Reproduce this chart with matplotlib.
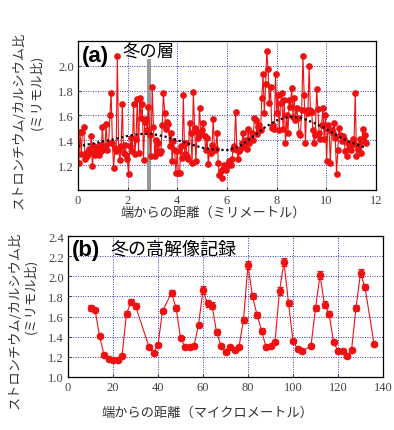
import numpy as np
import matplotlib.pyplot as plt

jp = ['Noto Sans CJK JP', 'DejaVu Sans']
plt.rcParams['font.family'] = jp

# (a) Sr/Ca ratio along the transect, one list per millimetre
sr_a = [
    1.22, 1.47, 1.29, 1.47, 1.51, 1.25, 1.30, 1.27, 1.33, 1.30, 1.43, 1.19, 1.35, 1.28, 1.30, 1.34, 1.28, 1.36, 1.31, 1.51,
    1.33, 1.35, 1.53, 1.32, 1.38, 1.60, 1.78, 1.38, 1.18, 1.34, 1.31, 2.08, 1.33, 1.24, 1.35, 1.69, 1.30, 1.36, 1.28, 1.25,
    1.13, 1.35, 1.42, 1.31, 1.69, 1.29, 1.41, 1.73, 1.30, 1.74, 1.58, 1.69, 1.24, 1.55, 1.57, 1.48, 1.67, 1.44, 1.27, 1.83,
    1.51, 1.27, 1.40, 1.31, 1.38, 1.30, 1.31, 1.52, 1.78, 1.62, 1.49, 1.55, 1.53, 1.35, 1.46, 1.23, 1.39, 1.32, 1.14, 1.31,
    1.14, 1.14, 1.35, 1.26, 1.76, 1.29, 1.38, 1.27, 1.25, 1.54, 1.46, 1.22, 1.79, 1.50, 1.23, 1.47, 1.42, 1.66, 1.45, 1.48,
    1.54, 1.43, 1.32, 1.42, 1.21, 1.31, 1.30, 1.36, 1.57, 1.32, 1.33, 1.46, 1.22, 1.12, 1.15, 1.10, 1.17, 1.20, 1.16, 1.19,
    1.21, 1.23, 1.20, 1.25, 1.33, 1.35, 1.63, 1.32, 1.25, 1.31, 1.34, 1.38, 1.46, 1.35, 1.40, 1.33, 1.49, 1.38, 1.41, 1.46,
    1.40, 1.58, 1.56, 1.45, 1.51, 1.52, 1.48, 1.74, 1.93, 1.62, 1.85, 2.12, 1.97, 1.70, 1.83, 1.50, 1.52, 1.49, 1.93, 1.62,
    1.76, 1.48, 1.70, 1.78, 1.49, 1.72, 1.38, 1.60, 1.46, 1.72, 1.67, 1.82, 1.59, 1.74, 1.56, 1.66, 1.58, 1.46, 1.44, 1.64,
    2.08, 1.76, 1.38, 1.64, 1.62, 2.00, 1.64, 1.63, 1.48, 1.38, 1.44, 1.81, 1.65, 1.46, 1.41, 1.52, 1.66, 1.41, 1.60, 1.23,
    1.52, 1.48, 1.22, 1.48, 1.46, 1.54, 1.42, 1.13, 1.32, 1.50, 1.44, 1.39, 1.43, 1.41, 1.31, 1.27, 1.38, 1.33, 1.35, 1.32,
    1.41, 1.37, 1.78, 1.27, 1.33, 1.36, 1.41, 1.30, 1.49, 1.39, 1.44, 1.38,
]
# measurement spots are evenly spaced along the transect
dist_a = np.linspace(0.03, 11.62, len(sr_a))

# smoothed trend (dotted black line)
trend_x = [0, 0.5, 1, 1.5, 2, 2.5, 3, 3.5, 4, 4.5, 5, 5.5, 6, 6.5, 7, 7.5, 8, 8.5, 9, 9.5, 10, 10.5, 11, 11.6]
trend_y = [1.35, 1.37, 1.39, 1.41, 1.435, 1.45, 1.45, 1.43, 1.40, 1.37, 1.34, 1.325, 1.32, 1.35, 1.42, 1.50,
           1.56, 1.59, 1.58, 1.54, 1.49, 1.43, 1.38, 1.34]

# (b) high resolution record
dist_b = [10, 12, 14, 16, 18, 20, 22, 24, 26, 28, 30, 36, 38, 40, 42, 46, 48, 50, 52, 54, 56, 58, 60, 62, 64,
          66, 68, 70, 72, 74, 76, 78, 80, 82, 84, 86, 88, 90, 92, 94, 96, 98, 100, 102, 104, 108, 110, 112,
          114, 116, 118, 120, 122, 124, 126, 128, 130, 132, 136]
sr_b = [1.69, 1.67, 1.41, 1.22, 1.175, 1.165, 1.165, 1.21, 1.63, 1.745, 1.705, 1.30, 1.24, 1.32, 1.655, 1.835,
        1.69, 1.39, 1.30, 1.30, 1.31, 1.52, 1.86, 1.73, 1.71, 1.45, 1.31, 1.25, 1.30, 1.27, 1.30, 1.57, 2.11,
        1.80, 1.62, 1.46, 1.30, 1.31, 1.35, 1.855, 2.14, 1.735, 1.355, 1.28, 1.255, 1.31, 1.685, 2.01, 1.72,
        1.63, 1.35, 1.255, 1.255, 1.205, 1.265, 1.69, 2.03, 1.89, 1.33]
err_b = [0.03, 0.02, 0.02, 0.02, 0.02, 0.02, 0.02, 0.02, 0.03, 0.03, 0.03, 0.02, 0.02, 0.02, 0.02, 0.03,
         0.03, 0.02, 0.02, 0.02, 0.02, 0.02, 0.04, 0.03, 0.03, 0.03, 0.02, 0.02, 0.02, 0.02, 0.02, 0.03, 0.04,
         0.03, 0.03, 0.03, 0.02, 0.02, 0.02, 0.04, 0.04, 0.03, 0.02, 0.02, 0.02, 0.02, 0.03, 0.04, 0.03,
         0.03, 0.02, 0.02, 0.02, 0.02, 0.02, 0.03, 0.04, 0.03, 0.02]

red = '#ee1111'
grid_col = '#3a3aa8'


def style(ax, xticks, yticks):
    ax.set_xticks(xticks)
    ax.set_yticks(yticks)
    ax.tick_params(direction='in', length=2, colors='#444444', labelsize=9, pad=3)
    for lab in ax.get_xticklabels() + ax.get_yticklabels():
        lab.set_fontfamily('Liberation Serif')
    ax.grid(True, color=grid_col, linestyle=(0, (1, 1.5)), linewidth=0.7)
    ax.set_axisbelow(True)
    for sp in ax.spines.values():
        sp.set_linewidth(0.9)


fig = plt.figure(figsize=(3.94, 4.31), dpi=100)

ax1 = fig.add_axes([0.198, 0.557, 0.756, 0.346])
ax1.axvspan(2.76, 2.94, ymin=0, ymax=0.875, color='#999999', zorder=1.5, lw=0)
ax1.plot(dist_a, sr_a, '-o', color=red, lw=0.8, ms=3.8, zorder=2)
ax1.plot(trend_x, trend_y, color='black', lw=1.6, linestyle=(0, (1, 1.2)), zorder=3)
ax1.set_xlim(0, 12)
ax1.set_ylim(1.0, 2.2)
style(ax1, [0, 2, 4, 6, 8, 10, 12], [1.2, 1.4, 1.6, 1.8, 2.0])
ax1.set_yticklabels(['1.2', '1.4', '1.6', '1.8', '2.0'])
ax1.text(0.012, 0.975, '(a)', transform=ax1.transAxes, va='top', ha='left',
         fontsize=16, fontweight='bold', family=['Liberation Sans', 'DejaVu Sans'])
ax1.text(0.148, 0.985, '冬の層', transform=ax1.transAxes, va='top', ha='left', fontsize=12.5)

ax2 = fig.add_axes([0.1726, 0.123, 0.7995, 0.327])
ax2.errorbar(dist_b, sr_b, yerr=err_b, fmt='-o', color=red, lw=0.8, ms=4.5,
             elinewidth=0.8, capsize=2, capthick=0.8, zorder=2)
ax2.set_xlim(0, 140)
ax2.set_ylim(1.0, 2.4)
style(ax2, [0, 20, 40, 60, 80, 100, 120, 140], [1.0, 1.2, 1.4, 1.6, 1.8, 2.0, 2.2, 2.4])
ax2.set_yticklabels(['1.0', '1.2', '1.4', '1.6', '1.8', '2.0', '2.2', '2.4'])
ax2.text(0.012, 0.98, '(b)', transform=ax2.transAxes, va='top', ha='left',
         fontsize=16, fontweight='bold', family=['Liberation Sans', 'DejaVu Sans'])
ax2.text(0.135, 0.975, '冬の高解像記録', transform=ax2.transAxes, va='top', ha='left', fontsize=13)

txt = dict(color='#333333', fontsize=9.5, ha='center', va='center')
# y labels, written as figure text so the two lines can sit as in the original
fig.text(19 / 394, 1 - 120 / 431, 'ストロンチウム/カルシウム比', rotation=90, **txt)
fig.text(37 / 394, 1 - 92 / 431, '(ミリモル比)', rotation=90, **txt)
fig.text(15 / 394, 1 - 320 / 431, 'ストロンチウム/カルシウム比', rotation=90, **txt)
fig.text(31 / 394, 1 - 296 / 431, '(ミリモル比)', rotation=90, **txt)
fig.text(213 / 394, 1 - 213 / 431, '端からの距離（ミリメートル）', **txt)
fig.text(208 / 394, 1 - 413 / 431, '端からの距離（マイクロメートル）', **txt)

fig.savefig('out.png', dpi=100)
